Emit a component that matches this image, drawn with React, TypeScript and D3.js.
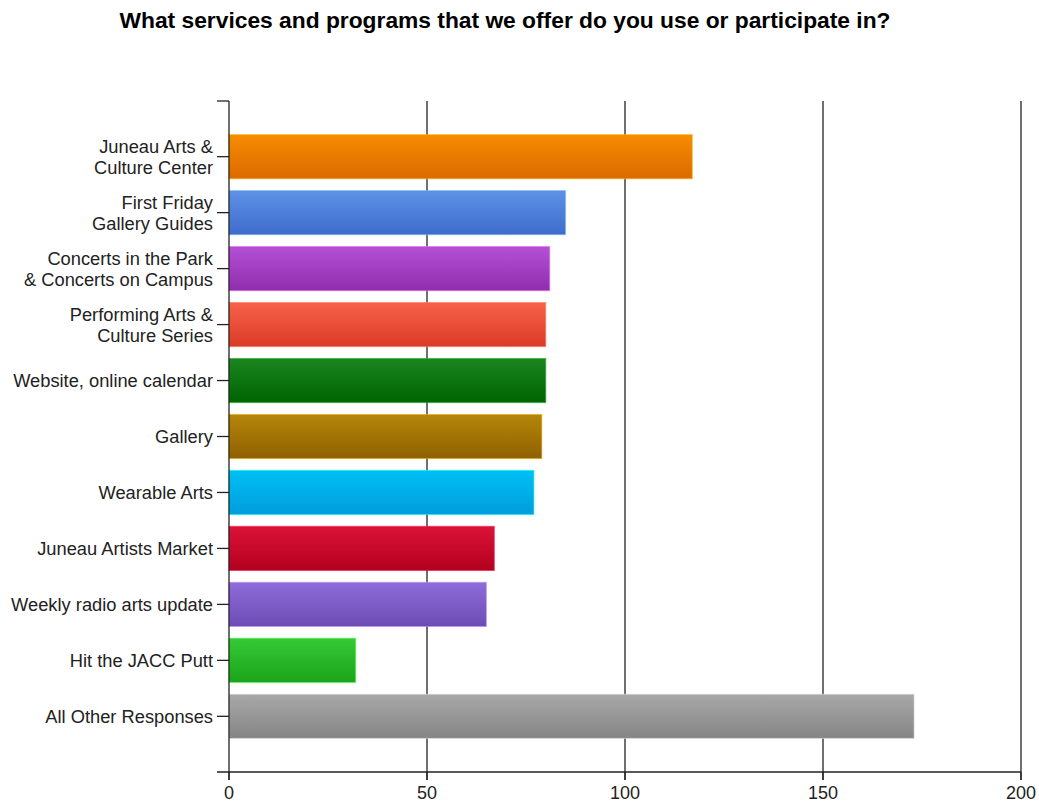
import React from 'react';
import * as d3 from 'd3';

const categories = [
  'Juneau Arts &\nCulture Center',
  'First Friday\nGallery Guides',
  'Concerts in the Park\n& Concerts on Campus',
  'Performing Arts &\nCulture Series',
  'Website, online calendar',
  'Gallery',
  'Wearable Arts',
  'Juneau Artists Market',
  'Weekly radio arts update',
  'Hit the JACC Putt',
  'All Other Responses',
];
const values = [117, 85, 81, 80, 80, 79, 77, 67, 65, 32, 173];
const topColors = ['#f78c00', '#5c92e6', '#b450d4', '#f7614a', '#1b8520', '#b5860a', '#00bff5', '#dc1238', '#8e6cd9', '#35c935', '#a8a8a8'];
const bottomColors = ['#dc6a00', '#3f6ccb', '#8f2ead', '#db3b26', '#006400', '#8f6100', '#009ddb', '#b3001f', '#6c4cb5', '#1ba41b', '#858585'];
const xTicks = [0, 50, 100, 150, 200];
const title = 'What services and programs that we offer do you use or participate in?';

const W = 1039;
const H = 802;
const left = 229;
const right = 1021;
const top = 101;
const bottom = 772;
const font = '"Liberation Sans", Arial, sans-serif';

export default function App() {
  const x = d3.scaleLinear().domain([0, 200]).range([left, right]);
  const y = d3.scaleBand<string>()
    .domain(categories)
    .range([top, bottom])
    .paddingInner(0.21)
    .paddingOuter(0.6);
  const bw = y.bandwidth();

  return (
    <svg width={W} height={H} style={{ position: 'absolute', left: 0, top: 0, background: '#fff' }}>
      <defs>
        {categories.map((c, i) => (
          <linearGradient key={i} id={'g' + i} x1="0" y1="0" x2="0" y2="1">
            <stop offset="0" stopColor={topColors[i]} />
            <stop offset="1" stopColor={bottomColors[i]} />
          </linearGradient>
        ))}
      </defs>

      <text x={505} y={28} textAnchor="middle" fontFamily={font} fontWeight="bold" fontSize={22.6} fill="#000" textLength={771} lengthAdjust="spacingAndGlyphs">
        {title}
      </text>

      {/* vertical grid lines */}
      {xTicks.slice(1).map(t => (
        <line key={t} x1={x(t)} x2={x(t)} y1={top} y2={bottom + 8} stroke="#222" strokeWidth={1.3} />
      ))}

      {/* bars */}
      {categories.map((c, i) => (
        <rect
          key={c}
          x={x(0)}
          y={y(c)!}
          width={x(values[i]) - x(0)}
          height={bw}
          fill={`url(#g${i})`}
          stroke={d3.color(topColors[i])!.brighter(0.8).formatHex()}
          strokeWidth={1}
          strokeOpacity={0.6}
        />
      ))}

      {/* y axis */}
      <line x1={left} x2={left} y1={top} y2={bottom + 8} stroke="#222" strokeWidth={1.3} />
      <line x1={left - 12} x2={left} y1={top} y2={top} stroke="#222" strokeWidth={1.3} />
      {categories.map(c => {
        const cy = y(c)! + bw / 2;
        const lines = c.split('\n');
        return (
          <g key={c}>
            <line x1={left - 12} x2={left} y1={cy} y2={cy} stroke="#222" strokeWidth={1.3} />
            <text
              x={left - 16}
              y={cy}
              textAnchor="end"
              fontFamily={font}
              fontSize={18.3}
              fill="#222"
            >
              {lines.map((l, k) => (
                <tspan key={k} x={left - 16} dy={k === 0 ? (lines.length === 1 ? 6.5 : -4) : 21}>
                  {l}
                </tspan>
              ))}
            </text>
          </g>
        );
      })}

      {/* x axis */}
      <line x1={left - 12} x2={right} y1={bottom} y2={bottom} stroke="#222" strokeWidth={1.3} />
      {xTicks.map(t => (
        <g key={t}>
          <line x1={x(t)} x2={x(t)} y1={bottom} y2={bottom + 8} stroke="#222" strokeWidth={1.3} />
          <text x={x(t)} y={799} textAnchor="middle" fontFamily={font} fontSize={18} fill="#222">
            {t}
          </text>
        </g>
      ))}
    </svg>
  );
}
